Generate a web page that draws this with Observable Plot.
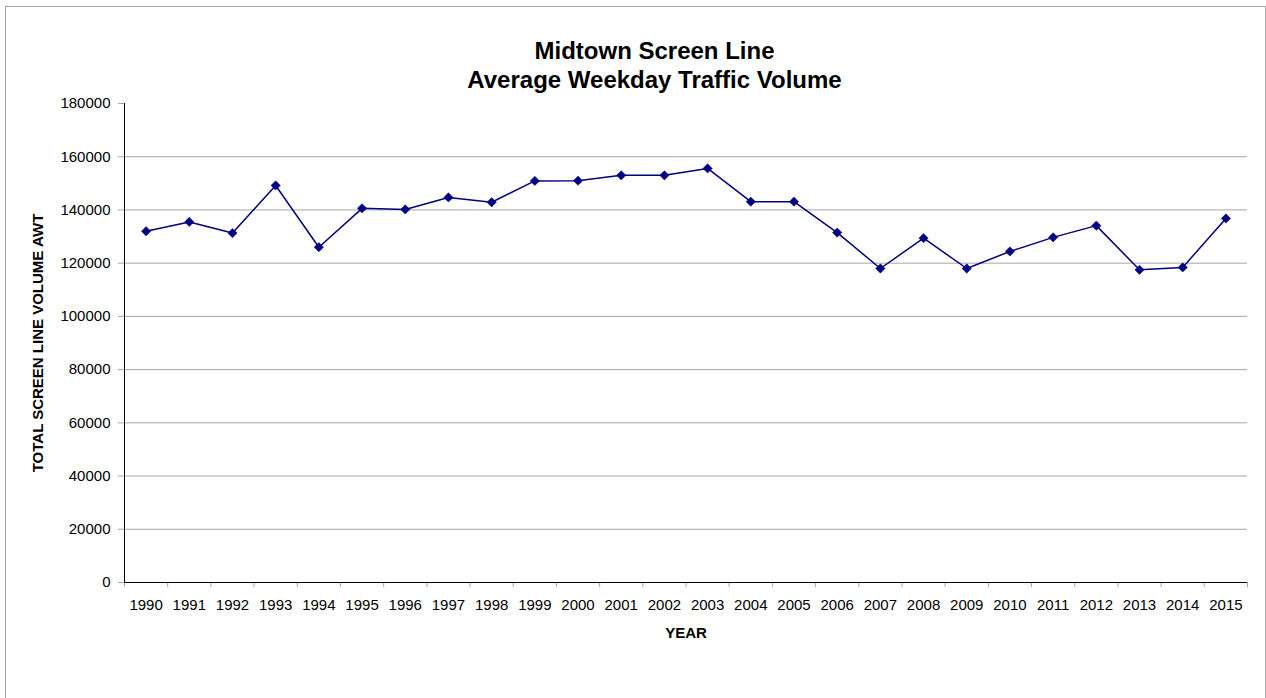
<!DOCTYPE html>
<html>
<head>
<meta charset="utf-8">
<script src="https://cdn.jsdelivr.net/npm/d3@7"></script>
<script src="https://cdn.jsdelivr.net/npm/@observablehq/plot@0.6"></script>
<style>
  html, body { margin: 0; padding: 0; background: #fff; }
  #wrap { position: relative; width: 1266px; height: 698px; overflow: hidden; }
  #border { position: absolute; left: 5px; top: 6px; width: 1261px; height: 700px; border: 1px solid #a6a6a6; box-sizing: border-box; pointer-events: none; }
  #chart { position: absolute; left: 0; top: 0; }
</style>
</head>
<body>
<div id="wrap"><div id="chart"></div><div id="border"></div></div>
<script>
const years = ["1990","1991","1992","1993","1994","1995","1996","1997","1998","1999","2000","2001","2002","2003","2004","2005","2006","2007","2008","2009","2010","2011","2012","2013","2014","2015"];
const volumes = [132000,135500,131300,149200,126000,140600,140200,144700,142900,150900,151000,153000,153000,155600,143100,143100,131500,118000,129400,118000,124400,129700,134100,117500,118400,136800];
const yTicks = [0,20000,40000,60000,80000,100000,120000,140000,160000,180000];
const gridTicks = [20000,40000,60000,80000,100000,120000,140000,160000];
const titleLines = ["Midtown Screen Line", "Average Weekday Traffic Volume"];
const xTitle = "YEAR";
const yTitle = "TOTAL SCREEN LINE VOLUME AWT";

const data = years.map((y, i) => ({year: y, value: volumes[i]}));

const W = 1266, H = 698;
const mL = 124, mR = 19, mT = 103, mB = 116;
const step = (W - mL - mR) / years.length;
const font = "'Liberation Sans', Arial, sans-serif";
const cx = mL + (W - mL - mR) / 2;

const chart = Plot.plot({
  width: W,
  height: H,
  marginLeft: mL,
  marginRight: mR,
  marginTop: mT,
  marginBottom: mB,
  style: {fontFamily: font, fontSize: "15px", color: "#000", background: "transparent", overflow: "visible"},
  x: {type: "point", domain: years, padding: 0.5, round: false, label: null},
  y: {domain: [0, 180000], label: null},
  marks: [
    Plot.gridY(gridTicks, {stroke: "#a6a6a6", strokeOpacity: 1}),
    // y axis
    Plot.axisY({ticks: yTicks, tickSize: 6, tickPadding: 8, tickFormat: d => String(d), stroke: "#a6a6a6", fill: "#000", fontSize: 15, label: null}),
    // x tick marks between categories
    Plot.axisX({ticks: years, tickSize: 5, tickFormat: null, dx: -step / 2, stroke: "#a6a6a6", label: null}),
    Plot.axisX({ticks: [years[years.length - 1]], tickSize: 5, tickFormat: null, dx: step / 2, stroke: "#a6a6a6", label: null}),
    // x labels
    Plot.axisX({ticks: years, tickSize: 0, tickPadding: 17, fontSize: 15, fill: "#000", label: null}),
    // axis lines
    Plot.frame({anchor: "left", stroke: "#000"}),
    Plot.ruleY([0], {stroke: "#000"}),
    // series
    Plot.line(data, {x: "year", y: "value", stroke: "#000080", strokeWidth: 1.5}),
    Plot.dot(data, {x: "year", y: "value", symbol: "diamond2", r: 4.2, fill: "#000080", stroke: "#000080", strokeWidth: 0.5}),
    // titles
    Plot.text([titleLines[0]], {frameAnchor: "top", dx: 654 - cx, dy: 51 - mT, text: d => d, fontSize: 24, fontWeight: "bold", fill: "#000", lineAnchor: "middle", textAnchor: "middle"}),
    Plot.text([titleLines[1]], {frameAnchor: "top", dx: 654 - cx, dy: 80 - mT, text: d => d, fontSize: 24, fontWeight: "bold", fill: "#000", lineAnchor: "middle", textAnchor: "middle"}),
    Plot.text([xTitle], {frameAnchor: "bottom", dy: 633 - (H - mB), text: d => d, fontSize: 15, fontWeight: "bold", fill: "#000", lineAnchor: "middle", textAnchor: "middle"}),
    Plot.text([yTitle], {frameAnchor: "left", dx: 38 - mL, text: d => d, rotate: -90, fontSize: 15, fontWeight: "bold", fill: "#000", lineAnchor: "middle", textAnchor: "middle"})
  ]
});
document.getElementById("chart").appendChild(chart);
</script>
</body>
</html>
